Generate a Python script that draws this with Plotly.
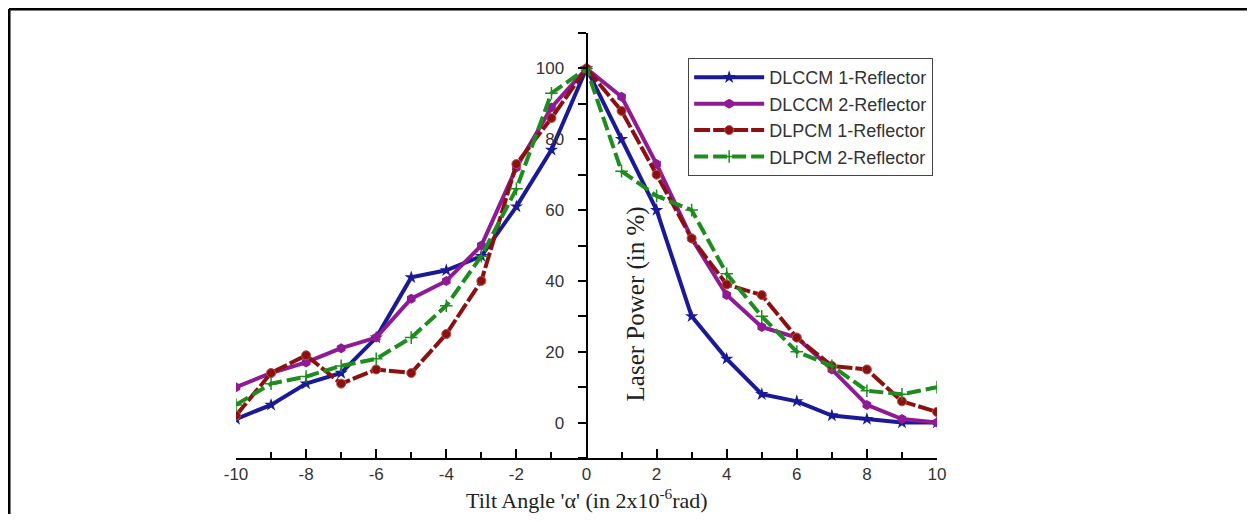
import plotly.graph_objects as go

tilt = [-10, -9, -8, -7, -6, -5, -4, -3, -2, -1, 0, 1, 2, 3, 4, 5, 6, 7, 8, 9, 10]
dlccm1 = [1, 5, 11, 14, 24, 41, 43, 47, 61, 77, 100, 80, 60, 30, 18, 8, 6, 2, 1, 0, 0]
dlccm2 = [10, 14, 17, 21, 24, 35, 40, 50, 72, 89, 100, 92, 73, 52, 36, 27, 24, 15, 5, 1, 0]
dlpcm1 = [2, 14, 19, 11, 15, 14, 25, 40, 73, 86, 100, 88, 70, 52, 39, 36, 24, 16, 15, 6, 3]
dlpcm2 = [5, 11, 13, 16, 18, 24, 33, 47, 66, 93, 100, 71, 64, 60, 42, 30, 20, 16, 9, 8, 10]

names = ["DLCCM 1-Reflector", "DLCCM 2-Reflector", "DLPCM 1-Reflector", "DLPCM 2-Reflector"]
xticks = [-10, -8, -6, -4, -2, 0, 2, 4, 6, 8, 10]
yticks = [0, 20, 40, 60, 80, 100]

fig = go.Figure()
fig.add_trace(go.Scatter(x=tilt, y=dlccm1, name=names[0], mode="lines+markers",
                         line=dict(color="#1a1a96", width=4),
                         marker=dict(symbol="star", size=10, color="#1a1a96")))
fig.add_trace(go.Scatter(x=tilt, y=dlccm2, name=names[1], mode="lines+markers",
                         line=dict(color="#8e1a94", width=4),
                         marker=dict(symbol="hexagon", size=10, color="#8e1a94")))
fig.add_trace(go.Scatter(x=tilt, y=dlpcm1, name=names[2], mode="lines+markers",
                         line=dict(color="#8b1010", width=4, dash="16px,3px"),
                         marker=dict(symbol="circle", size=9, color="#8b1010",
                                     line=dict(color="#b85050", width=1))))
fig.add_trace(go.Scatter(x=tilt, y=dlpcm2, name=names[3], mode="lines+markers",
                         line=dict(color="#1e8c1e", width=4, dash="14px,5px"),
                         marker=dict(symbol="cross-thin", size=9, color="#1e8c1e",
                                     line=dict(color="#1e8c1e", width=1.5))))

tickfont = dict(family="Liberation Sans, Arial, sans-serif", size=17, color="#333333")

# The page body has an 8px margin, so the figure is sized/offset to fit the window.
fig.update_layout(
    width=1239, height=506,
    margin=dict(l=228, r=310, t=25, b=56),
    paper_bgcolor="white", plot_bgcolor="white",
    showlegend=True,
    legend=dict(x=0.645, y=0.941, xanchor="left", yanchor="top",
                bgcolor="white", bordercolor="#444444", borderwidth=1,
                font=dict(family="Liberation Sans, Arial, sans-serif", size=18, color="#333333"),
                itemwidth=70, tracegroupgap=0),
    xaxis=dict(range=[-10, 10], tickvals=xticks, ticktext=[str(v) for v in xticks],
               ticks="inside", ticklen=9, tickwidth=2, tickcolor="black",
               minor=dict(dtick=1, tick0=0, ticks="inside", ticklen=6, tickwidth=2, tickcolor="black"),
               showline=True, linecolor="black", linewidth=2, showgrid=False, zeroline=False,
               tickfont=tickfont, anchor="y"),
    yaxis=dict(range=[-10, 110], tickvals=yticks, ticktext=[str(v) for v in yticks],
               ticks="outside", ticklen=8, tickwidth=2, tickcolor="black",
               minor=dict(dtick=10, tick0=0, ticks="outside", ticklen=8, tickwidth=2, tickcolor="black"),
               showline=True, linecolor="black", linewidth=2, showgrid=False, zeroline=False,
               tickfont=tickfont, anchor="free", position=0.5, ticklabelstandoff=10),
    annotations=[
        dict(text="Laser Power (in %)", x=0.571, y=0.362, xref="paper", yref="paper",
             xanchor="center", yanchor="middle", textangle=-90, showarrow=False,
             font=dict(family="Liberation Serif, Times New Roman, serif", size=25, color="#222222")),
        dict(text="Tilt Angle 'α' (in 2x10<sup>-6</sup>rad)", x=0.5, y=-0.097, xref="paper", yref="paper",
             xanchor="center", yanchor="middle", showarrow=False,
             font=dict(family="Liberation Serif, Times New Roman, serif", size=22, color="#222222")),
    ],
    shapes=[
        dict(type="line", xref="paper", yref="paper", x0=-0.3238, x1=1.6, y0=1.0565, y1=1.0565,
             line=dict(color="black", width=3)),
        dict(type="line", xref="paper", yref="paper", x0=-0.3238, x1=-0.3238, y0=1.0565, y1=-0.2,
             line=dict(color="black", width=3)),
    ],
)

fig.write_html("out.html")
